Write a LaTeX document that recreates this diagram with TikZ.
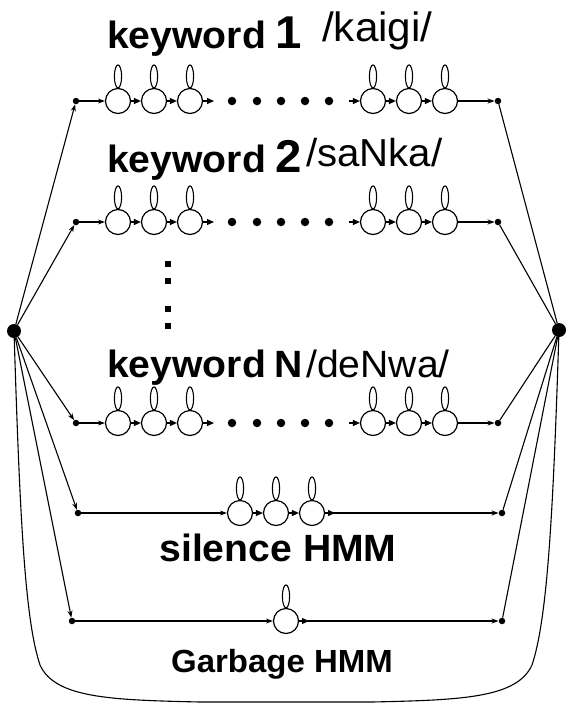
\documentclass[tikz,border=0pt]{standalone}
\usepackage{fontspec}
\setmainfont{Liberation Sans}[FakeStretch=1.03]
\usetikzlibrary{arrows.meta}
\begin{document}
\begin{tikzpicture}[x=1pt, y=-1pt,
  bigdot/.style={circle, fill, inner sep=0pt, minimum size=14pt},
  smalldot/.style={circle, fill, inner sep=0pt, minimum size=6.5pt},
  state/.style={circle, draw, line width=1.2pt, inner sep=0pt, minimum size=25pt},
  selfloop/.style={line width=1.1pt},
  conn/.style={line width=1.1pt},
  arr/.style={conn, -{Stealth[length=7pt, width=5pt]}},
  hop/.style={conn, -{Triangle[length=7pt, width=6pt]}},
  gapdot/.style={circle, fill, inner sep=0pt, minimum size=8.5pt},
  vdot/.style={rectangle, fill, inner sep=0pt, minimum size=6.5pt},
  kw/.style={font=\bfseries\fontsize{38}{38}\selectfont, anchor=base west, inner sep=0pt},
  num/.style={font=\bfseries\fontsize{46}{46}\selectfont, anchor=base west, inner sep=0pt},
  phon/.style={font=\fontsize{#1}{#1}\selectfont, anchor=base west, inner sep=0pt},
  hmm/.style={font=\bfseries\fontsize{#1}{#1}\selectfont, anchor=base, inner sep=0pt},
]
\useasboundingbox (0,0) rectangle (568,705);

% common start and end nodes
\node[bigdot] (L) at (14,331) {};
\node[bigdot] (R) at (559,330) {};

% keyword models
\foreach \r/\y in {1/101, 2/222, 3/423} {
  \node[smalldot] (in\r) at (76,\y) {};
  \node[smalldot] (out\r) at (498,\y) {};
  \foreach \i/\x in {1/118, 2/154, 3/190, 4/373, 5/409, 6/445} {
    \node[state] (s\r\i) at (\x,\y) {};
    \draw[selfloop] (s\r\i.north) ++(0,-11.5) ellipse [x radius=3.6, y radius=11.5];
  }
  \foreach \j/\x in {1/232, 2/257, 3/281, 4/305, 5/329}
    \node[gapdot] (d\r\j) at (\x,\y) {};
  \coordinate (t\r) at (214,\y);
  \coordinate (u\r) at (349,\y);
  \draw[arr] (in\r) -- (s\r1);
  \draw[hop] (s\r1) -- (s\r2);
  \draw[hop] (s\r2) -- (s\r3);
  \draw[hop] (s\r3) -- (t\r);
  \draw[hop] (u\r) -- (s\r4);
  \draw[hop] (s\r4) -- (s\r5);
  \draw[hop] (s\r5) -- (s\r6);
  \draw[arr] (s\r6) -- (out\r);
  \draw[arr] (L) -- (in\r);
  \draw[conn] (out\r) -- (R);
}

% labels of the keyword models
\node[kw] (k1) at (107,48) {keyword};
\node[num] (n1) at (275,48) {1};
\node[phon=41] (p1) at (322,41) {/kaigi/};
\node[kw] (k2) at (107,172) {keyword};
\node[num] (n2) at (275,172) {2};
\node[phon=39] (p2) at (306,166) {/saNka/};
\node[kw] (k3) at (107,377) {keyword};
\node[kw] (n3) at (274,377) {N};
\node[phon=38] (p3) at (306,377) {/deNwa/};

% vertical ellipsis between keyword 2 and keyword N
\foreach \j/\y in {1/264, 2/281, 3/309, 4/326}
  \node[vdot] (v\j) at (168,\y) {};

% silence model
\node[smalldot] (inS) at (78,513) {};
\node[smalldot] (outS) at (502,513) {};
\foreach \i/\x in {1/240, 2/276, 3/312} {
  \node[state] (q\i) at (\x,513) {};
  \draw[selfloop] (q\i.north) ++(0,-11.5) ellipse [x radius=3.6, y radius=11.5];
}
\coordinate (qx) at (335,513);
\draw[arr] (inS) -- (q1);
\draw[hop] (q1) -- (q2);
\draw[hop] (q2) -- (q3);
\draw[hop] (q3) -- (qx);
\draw[arr] (q3) -- (outS);
\draw[arr] (L) -- (inS);
\draw[conn] (outS) -- (R);
\node[hmm=38] (sl) at (278,561) {silence HMM};

% garbage model
\node[smalldot] (inG) at (72,621) {};
\node[smalldot] (outG) at (502,621) {};
\node[state] (g1) at (286,621) {};
\draw[selfloop] (g1.north) ++(0,-11.5) ellipse [x radius=3.6, y radius=11.5];
\coordinate (gx) at (309,621);
\draw[arr] (inG) -- (g1);
\draw[hop] (g1) -- (gx);
\draw[arr] (g1) -- (outG);
\draw[arr] (L) -- (inG);
\draw[conn] (outG) -- (R);
\node[hmm=32] (gl) at (282,672) {Garbage HMM};

% feedback path from the end node back to the start node
\draw[conn] (L) .. controls (20,520) and (25,620) .. (40,665)
  .. controls (55,698) and (110,700) .. (200,702) -- (372,702)
  .. controls (462,700) and (517,698) .. (532,665)
  .. controls (547,620) and (553,520) .. (R);
\end{tikzpicture}
\end{document}
